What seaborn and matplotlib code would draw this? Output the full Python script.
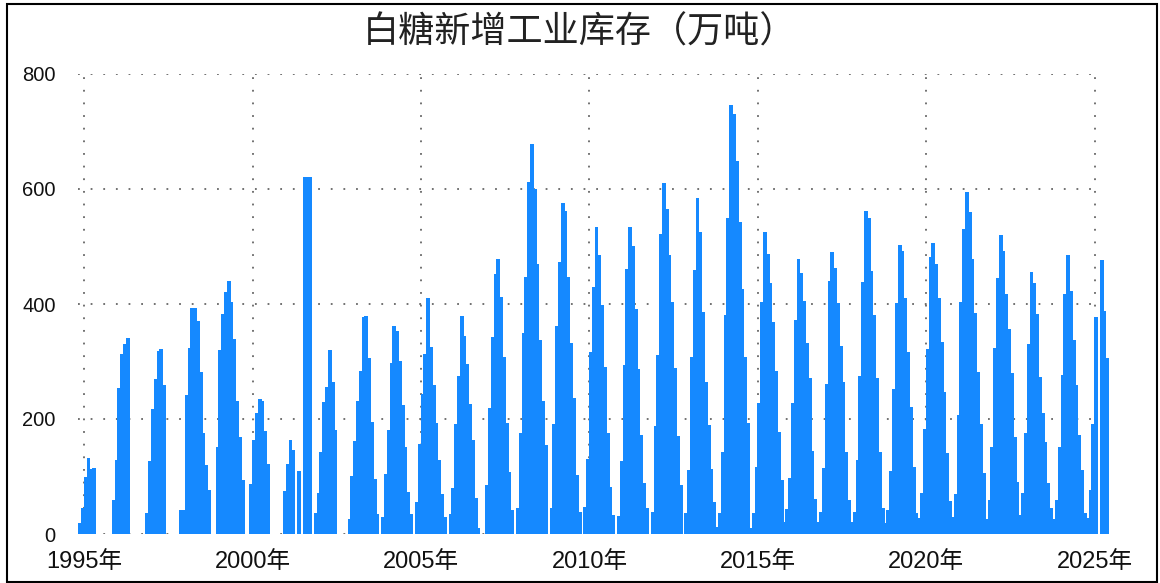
import numpy as np
import pandas as pd
import matplotlib
matplotlib.use("Agg")
import matplotlib.pyplot as plt
from matplotlib.patches import Rectangle
import seaborn as sns

# monthly values per sugar season, index 0 = November ... index 11 = October
# None = month not reported
s1994 = [19, 45, 99, 132, 113, 115]
s1995 = [59, 129, 254, 313, 330, 341]
s1996 = [37, 127, 217, 270, 318, 322, 259]
s1997 = [42, 42, 242, 323, 393, 393, 370, 282, 176, 120, 77]
s1998 = [None, 151, 320, 383, 421, 440, 403, 339, 231, 169, 94]
s1999 = [None, 87, 163, 210, 235, 231, 179, 122]
s2000 = [None, 75, 122, 163, 146, None, 110, None, 621, 621, 621]
s2001 = [37, 71, 143, 230, 256, 320, 264, 181]
s2002 = [26, 101, 162, 231, 283, 377, 379, 306, 195, 96, 35]
s2003 = [30, 104, 181, 297, 362, 353, 301, 224, 151, 73, 35]
s2004 = [56, 157, 243, 313, 410, 325, 259, 193, 129, 70, 30]
s2005 = [35, 80, 191, 275, 379, 344, 296, 226, 163, 63, 10]
s2006 = [None, 85, 219, 343, 452, 478, 412, 308, 193, 108, 42]
s2007 = [45, 176, 350, 447, 612, 678, 600, 470, 337, 231, 155]
s2008 = [45, 191, 362, 473, 576, 562, 447, 332, 237, 103, 38]
s2009 = [47, 130, 317, 430, 534, 485, 398, 290, 176, 82, 33]
s2010 = [31, 127, 294, 461, 534, 501, 391, 287, 172, 89, 45]
s2011 = [38, 188, 311, 522, 610, 565, 485, 403, 289, 170, 85]
s2012 = [37, 111, 308, 459, 584, 525, 386, 264, 190, 113, 56, 12]
s2013 = [37, 143, 381, 550, 746, 730, 649, 543, 426, 308, 193, 10]
s2014 = [37, 117, 228, 403, 525, 487, 437, 369, 283, 177, 94, 21]
s2015 = [43, 97, 228, 372, 478, 454, 405, 332, 271, 144, 61, 21]
s2016 = [38, 115, 261, 440, 490, 463, 402, 327, 264, 143, 59, 21]
s2017 = [38, 129, 275, 438, 562, 550, 457, 381, 271, 143, 45, 19]
s2018 = [42, 110, 252, 402, 503, 492, 410, 317, 221, 117, 37, 28]
s2019 = [71, 183, 322, 482, 506, 470, 410, 334, 247, 141, 57, 30]
s2020 = [70, 207, 403, 530, 595, 560, 478, 384, 282, 191, 106, 26]
s2021 = [59, 151, 323, 445, 520, 492, 417, 357, 280, 169, 90, 33]
s2022 = [71, 176, 330, 456, 437, 383, 273, 210, 160, 89, 45, 26]
s2023 = [59, 151, 277, 417, 485, 423, 337, 259, 172, 111, 37, 28]
s2024 = [77, 191, 377, None, 477, 388, 306]

seasons = [s1994, s1995, s1996, s1997, s1998, s1999, s2000, s2001, s2002,
           s2003, s2004, s2005, s2006, s2007, s2008, s2009, s2010, s2011,
           s2012, s2013, s2014, s2015, s2016, s2017, s2018, s2019, s2020,
           s2021, s2022, s2023, s2024]
first_season = 1994
tick_years = [1995, 2000, 2005, 2010, 2015, 2020, 2025]
y_ticks = [0, 200, 400, 600, 800]
title = "白糖新增工业库存（万吨）"

# build long table: x = fractional year at middle of month
rows = []
for i, vals in enumerate(seasons):
    start = first_season + i
    for k, v in enumerate(vals):
        if v is None:
            continue
        month = 11 + k  # Nov = 11
        year = start + (month - 1) // 12
        m = (month - 1) % 12 + 1
        rows.append({"t": year + (m - 0.5) / 12, "v": v})
df = pd.DataFrame(rows)

sns.set_theme(style="white")
plt.rcParams["font.family"] = ["Liberation Sans", "Noto Sans CJK SC", "DejaVu Sans"]

fig = plt.figure(figsize=(11.6, 5.83), dpi=100)
ax = fig.add_axes([78 / 1160, 49 / 583, (1098.7 - 78) / 1160, 460 / 583])

sns.barplot(data=df, x="t", y="v", native_scale=True, width=1.35,
            color="#1589FF", saturation=1, errorbar=None, linewidth=0,
            antialiased=False, clip_on=False, ax=ax)

ax.set_xlim(1994.816, 2025.119)
ax.set_ylim(0, 800)
ax.set_xticks(tick_years)
ax.set_xticklabels([f"{y}年" for y in tick_years], fontsize=17, color="#111")
ax.set_yticks(y_ticks)
ax.set_yticklabels([str(v) for v in y_ticks], fontsize=14.5, color="#111")
ax.tick_params(axis="y", length=0, pad=16)
ax.tick_params(axis="x", length=0, pad=12)
ax.set_xlabel("")
ax.set_ylabel("")
for sp in ax.spines.values():
    sp.set_visible(False)
ax.set_axisbelow(True)
ax.grid(True, color="#666666", linestyle=(0, (1, 6)), linewidth=1.3)

fig.text(0.5, 1 - 33 / 583, title, ha="center", va="center", fontsize=26,
         color="#222", family=["Noto Sans CJK SC"])

fig.patches.append(Rectangle((6.5 / 1160, 1 / 583), 1150 / 1160, 578.5 / 583,
                             transform=fig.transFigure, fill=False,
                             edgecolor="black", linewidth=1.5))

fig.savefig("out.png", dpi=100)
